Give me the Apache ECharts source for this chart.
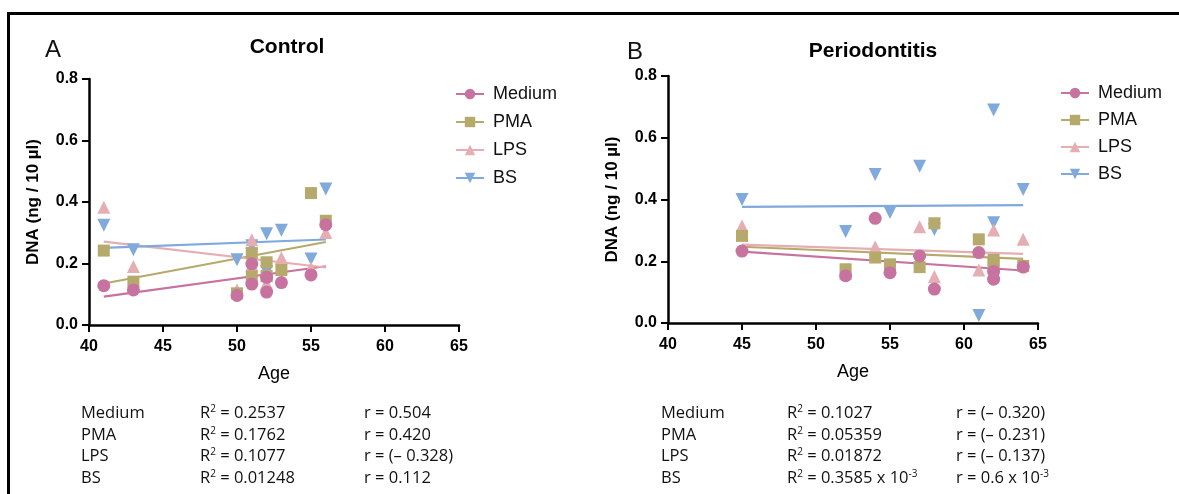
<!DOCTYPE html>
<html>
<head>
<meta charset="utf-8">
<script src="https://cdn.jsdelivr.net/npm/echarts@6/dist/echarts.min.js"></script>
<style>
  html, body { margin: 0; padding: 0; background: #fff; }
  #wrap { position: relative; width: 1179px; height: 494px; overflow: hidden; }
  #chart { position: absolute; left: 0; top: 0; width: 1179px; height: 494px; }
  #frame { position: absolute; left: 7px; top: 12px; width: 1200px; height: 500px;
           border-top: 3px solid #000; border-left: 3px solid #000; }
  .stats { position: absolute; font-family: "Open Sans", sans-serif; font-size: 16.5px; color: #111; }
  .stats div { position: absolute; white-space: nowrap; line-height: 22px; }
  .stats sup { font-size: 10px; vertical-align: 6px; line-height: 0; }
</style>
</head>
<body>
<div id="wrap">
  <div id="chart"></div>
  <div id="frame"></div>
  <div class="stats" id="statsA"></div>
  <div class="stats" id="statsB"></div>
</div>
<script>
// 系列名称
const seriesNames = ['Medium', 'PMA', 'LPS', 'BS'];

// Control 组（A）
const ageA = [41, 43, 50, 51, 51, 52, 52, 53, 55, 56];
const mediumA = [0.128, 0.114, 0.096, 0.199, 0.133, 0.155, 0.107, 0.138, 0.163, 0.326];
const pmaA = [0.242, 0.141, 0.103, 0.234, 0.158, 0.204, 0.160, 0.179, 0.429, 0.339];
const lpsA = [0.383, 0.190, 0.114, 0.277, 0.195, 0.136, 0.160, 0.219, 0.185, 0.301];
const bsA = [0.324, 0.245, 0.212, 0.258, 0.230, 0.297, 0.174, 0.308, 0.215, 0.442];
// 回归线端点
const fitAgeA = [41, 56];
const fitMediumA = [0.092, 0.191];
const fitPmaA = [0.135, 0.270];
const fitLpsA = [0.271, 0.187];
const fitBsA = [0.251, 0.278];

// Periodontitis 组（B）
const ageB = [45, 52, 54, 55, 57, 58, 61, 62, 62, 64];
const mediumB = [0.233, 0.153, 0.339, 0.163, 0.217, 0.110, 0.228, 0.167, 0.142, 0.181];
const pmaB = [0.282, 0.174, 0.212, 0.190, 0.181, 0.323, 0.271, 0.204, 0.190, 0.185];
const lpsB = [0.314, 0.160, 0.247, 0.180, 0.312, 0.151, 0.172, 0.301, 0.200, 0.271];
const bsB = [0.400, 0.296, 0.481, 0.358, 0.508, 0.303, 0.024, 0.690, 0.325, 0.432];
const fitAgeB = [45, 64];
const fitMediumB = [0.231, 0.170];
const fitPmaB = [0.247, 0.208];
const fitLpsB = [0.254, 0.224];
const fitBsB = [0.376, 0.382];

// 统计文字
const r2A = ['0.2537', '0.1762', '0.1077', '0.01248'];
const rA = ['0.504', '0.420', '(– 0.328)', '0.112'];
const r2B = ['0.1027', '0.05359', '0.01872', '0.3585 x 10<sup>-3</sup>'];
const rB = ['(– 0.320)', '(– 0.231)', '(– 0.137)', '0.6 x 10<sup>-3</sup>'];

const colors = { Medium: '#c8729f', PMA: '#b5aa6c', LPS: '#e4aeb3', BS: '#80a9dc' };
const symbols = { Medium: 'circle', PMA: 'rect', LPS: 'triangle', BS: 'triangle' };
const symRot = { Medium: 0, PMA: 0, LPS: 0, BS: 180 };
const symSize = { Medium: 13, PMA: 12, LPS: 13, BS: 13 };

const font = '"Liberation Sans", Arial, sans-serif';

function pairs(xs, ys) {
    return xs.map((x, i) => [x, ys[i]]);
}

function makeXAxis(idx) {
    return {
        type: 'value', gridIndex: idx, min: 40, max: 65, interval: 5,
        name: 'Age', nameLocation: 'middle', nameGap: 40,
        nameTextStyle: { fontSize: 18, color: '#000', fontFamily: font },
        axisLine: { show: true, onZero: false, lineStyle: { color: '#000', width: 2.5 } },
        axisTick: { show: true, length: 7, lineStyle: { color: '#000', width: 2 } },
        axisLabel: { fontSize: 16, fontWeight: 'bold', color: '#000', fontFamily: font, margin: 14 },
        splitLine: { show: false }
    };
}

function makeYAxis(idx) {
    return {
        type: 'value', gridIndex: idx, min: 0, max: 0.8, interval: 0.2,
        name: 'DNA (ng / 10 µl)', nameLocation: 'middle', nameGap: 47,
        nameTextStyle: { fontSize: 17, fontWeight: 'bold', color: '#000', fontFamily: font },
        axisLine: { show: true, lineStyle: { color: '#000', width: 2.5 } },
        axisTick: { show: true, length: 7, lineStyle: { color: '#000', width: 2 } },
        axisLabel: { fontSize: 16, fontWeight: 'bold', color: '#000', fontFamily: font, margin: 11,
                     formatter: v => v.toFixed(1) },
        splitLine: { show: false }
    };
}

const panelData = [
    { ages: ageA, vals: [mediumA, pmaA, lpsA, bsA], fitX: fitAgeA, fits: [fitMediumA, fitPmaA, fitLpsA, fitBsA] },
    { ages: ageB, vals: [mediumB, pmaB, lpsB, bsB], fitX: fitAgeB, fits: [fitMediumB, fitPmaB, fitLpsB, fitBsB] }
];

const series = [];
// 回归线（同时作为图例图标）
panelData.forEach((p, gi) => {
    seriesNames.forEach((name, k) => {
        series.push({
            name: name, type: 'line', xAxisIndex: gi, yAxisIndex: gi,
            data: pairs(p.fitX, p.fits[k]),
            symbol: symbols[name], symbolRotate: symRot[name], symbolSize: 12,
            showSymbol: false, silent: true, z: 2,
            itemStyle: { color: colors[name] },
            lineStyle: { color: colors[name], width: 2.2 }
        });
    });
});
// 散点（Medium 在最上层）
panelData.forEach((p, gi) => {
    [3, 2, 1, 0].forEach(k => {
        const name = seriesNames[k];
        series.push({
            name: name, type: 'scatter', xAxisIndex: gi, yAxisIndex: gi,
            data: pairs(p.ages, p.vals[k]),
            symbol: symbols[name], symbolRotate: symRot[name], symbolSize: symSize[name],
            z: 3 + (3 - k),
            itemStyle: { color: colors[name], opacity: 1 }
        });
    });
});

function makeLegend(left, top, gap) {
    return {
        data: seriesNames, orient: 'vertical', left: left, top: top,
        itemWidth: 28, itemHeight: 13, itemGap: gap,
        selectedMode: false,
        textStyle: { fontSize: 18, color: '#111', fontFamily: font, padding: [0, 0, 0, 4] }
    };
}

const chart = echarts.init(document.getElementById('chart'));
chart.setOption({
    animation: false,
    backgroundColor: '#fff',
    title: [
        { text: 'A', left: 40, top: 33, textStyle: { fontSize: 24, fontWeight: 'normal', color: '#111', fontFamily: font } },
        { text: 'Control', left: 282, top: 32, textAlign: 'center', textStyle: { fontSize: 21, fontWeight: 'bold', color: '#000', fontFamily: font } },
        { text: 'B', left: 622, top: 35, textStyle: { fontSize: 24, fontWeight: 'normal', color: '#111', fontFamily: font } },
        { text: 'Periodontitis', left: 868, top: 36, textAlign: 'center', textStyle: { fontSize: 21, fontWeight: 'bold', color: '#000', fontFamily: font } }
    ],
    legend: [makeLegend(450, 80, 10), makeLegend(1055, 79, 9)],
    grid: [
        { left: 89, top: 79, width: 370, height: 246 },
        { left: 668, top: 76, width: 370, height: 247 }
    ],
    xAxis: [makeXAxis(0), makeXAxis(1)],
    yAxis: [makeYAxis(0), makeYAxis(1)],
    series: series
});

// 统计表
function fillStats(id, left, top, cols, r2, r) {
    const box = document.getElementById(id);
    box.style.left = left + 'px';
    box.style.top = top + 'px';
    seriesNames.forEach((name, i) => {
        const y = i * 21.7;
        const cells = [name, 'R<sup>2</sup> = ' + r2[i], 'r = ' + r[i]];
        cells.forEach((html, c) => {
            const d = document.createElement('div');
            d.style.left = cols[c] + 'px';
            d.style.top = y + 'px';
            d.innerHTML = html;
            box.appendChild(d);
        });
    });
}
fillStats('statsA', 0, 401, [81, 200, 364], r2A, rA);
fillStats('statsB', 600, 401, [61, 187, 356], r2B, rB);
</script>
</body>
</html>
